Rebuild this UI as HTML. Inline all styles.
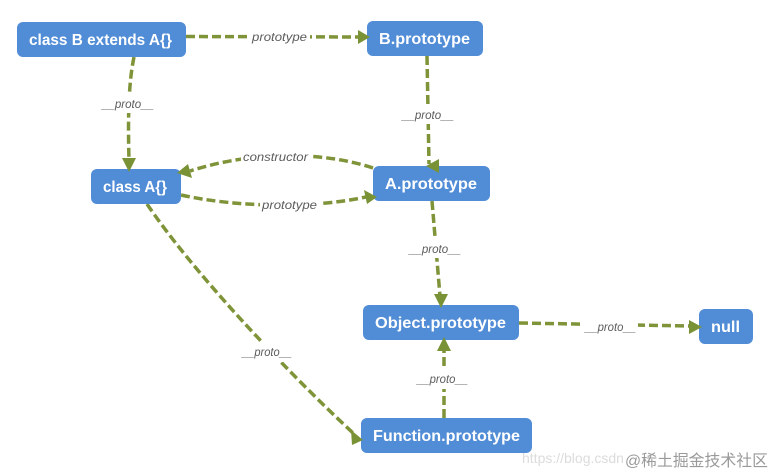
<!DOCTYPE html>
<html><head><meta charset="utf-8"><style>
html,body{margin:0;padding:0;background:#fff;width:775px;height:476px;overflow:hidden}
svg{display:block}
.n{font:bold 16px "Liberation Sans",sans-serif;fill:#fff}
.l{font:italic 12px "Liberation Sans",sans-serif;fill:#5c5c5c}
.c{fill:none;stroke:#7f9339;stroke-width:3.5;stroke-dasharray:9 4}
.a{fill:#7a9236}
.w{fill:#fff}
</style></head><body>
<svg width="775" height="476" viewBox="0 0 775 476" xmlns="http://www.w3.org/2000/svg">
<path class="c" d="M186 36.500L358 37"/>
<path class="c" d="M134 57C128 85 128 125 129 160"/>
<path class="c" d="M427 56L429 164"/>
<path class="c" d="M373 168C325 152 255 150 190 171"/>
<path class="c" d="M181 195C235 207 310 209 366 197"/>
<path class="c" d="M432 201L440 296"/>
<path class="c" d="M147 204C190 268 280 365 353 433"/>
<path class="c" d="M519 323L690 326"/>
<path class="c" d="M444 418L444 350"/>
<rect x="17" y="22" width="169" height="35" rx="6" fill="#518cd6"/>
<rect x="367" y="21" width="116" height="35" rx="6" fill="#518cd6"/>
<rect x="91" y="169" width="90" height="35" rx="6" fill="#518cd6"/>
<rect x="373" y="166" width="117" height="35" rx="6" fill="#518cd6"/>
<rect x="363" y="305" width="156" height="35" rx="6" fill="#518cd6"/>
<rect x="699" y="309" width="54" height="35" rx="6" fill="#518cd6"/>
<rect x="361" y="418" width="171" height="35" rx="6" fill="#518cd6"/>
<polygon class="a" points="370,37 358,30 358,44"/>
<polygon class="a" points="129,172 122,158 136,158"/>
<polygon class="a" points="426,166 439,159 439,173"/>
<polygon class="a" points="177,173 188,164 192,178"/>
<polygon class="a" points="377,197 364,190 367,204"/>
<polygon class="a" points="441,308 434,294 448,294"/>
<polygon class="a" points="363,440 351,430 352,445"/>
<polygon class="a" points="702,327 689,320 689,334"/>
<polygon class="a" points="444,337 437,351 451,351"/>
<text class="n" x="29" y="45" textLength="143" lengthAdjust="spacingAndGlyphs">class B extends A{}</text>
<text class="n" x="379" y="44" textLength="91" lengthAdjust="spacingAndGlyphs">B.prototype</text>
<text class="n" x="103" y="192" textLength="64" lengthAdjust="spacingAndGlyphs">class A{}</text>
<text class="n" x="385" y="189" textLength="92" lengthAdjust="spacingAndGlyphs">A.prototype</text>
<text class="n" x="375" y="328" textLength="131" lengthAdjust="spacingAndGlyphs">Object.prototype</text>
<text class="n" x="711" y="332" textLength="29" lengthAdjust="spacingAndGlyphs">null</text>
<text class="n" x="373" y="441" textLength="147" lengthAdjust="spacingAndGlyphs">Function.prototype</text>
<rect class="w" x="249" y="30" width="61" height="14"/>
<text class="l" x="252" y="41" textLength="55" lengthAdjust="spacingAndGlyphs">prototype</text>
<rect class="w" x="101" y="94" width="55" height="19"/>
<text class="l" x="102" y="108" textLength="52" lengthAdjust="spacingAndGlyphs">__proto__</text>
<rect class="w" x="401" y="105" width="55" height="19"/>
<text class="l" x="402" y="119" textLength="52" lengthAdjust="spacingAndGlyphs">__proto__</text>
<rect class="w" x="241" y="150" width="70" height="14"/>
<text class="l" x="243" y="161" textLength="65" lengthAdjust="spacingAndGlyphs">constructor</text>
<rect class="w" x="260" y="198" width="60" height="15"/>
<text class="l" x="262" y="209" textLength="55" lengthAdjust="spacingAndGlyphs">prototype</text>
<rect class="w" x="408" y="239" width="55" height="19"/>
<text class="l" x="409" y="253" textLength="52" lengthAdjust="spacingAndGlyphs">__proto__</text>
<rect class="w" x="241" y="342" width="53" height="20"/>
<text class="l" x="242" y="356" textLength="50" lengthAdjust="spacingAndGlyphs">__proto__</text>
<rect class="w" x="583" y="317" width="55" height="18"/>
<text class="l" x="585" y="331" textLength="51" lengthAdjust="spacingAndGlyphs">__proto__</text>
<rect class="w" x="415" y="369" width="55" height="20"/>
<text class="l" x="417" y="383" textLength="51" lengthAdjust="spacingAndGlyphs">__proto__</text>
<text x="522" y="463" font-family="Liberation Sans,sans-serif" font-size="14" fill="#dcdcdc">https://blog.csdn</text>
<text x="625" y="466" font-family="&quot;Liberation Sans&quot;,&quot;Noto Sans CJK SC&quot;,sans-serif" font-size="16" fill="#9a9a9a" textLength="143" lengthAdjust="spacingAndGlyphs">@稀土掘金技术社区</text>
</svg>
</body></html>
